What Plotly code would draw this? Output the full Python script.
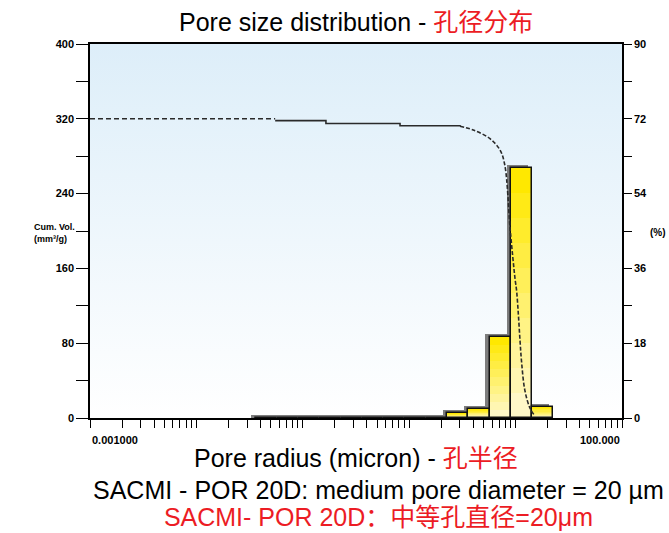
import numpy as np
import plotly.graph_objects as go

# ---------------- data ----------------
# histogram bins (pore radius, micron) and incremental volume (%)
bin_centers_um = [0.0452, 0.0716, 0.1135, 0.180, 0.285, 0.452, 0.716,
                  1.135, 1.80, 2.85, 4.52, 7.16, 11.35, 17.99]
incr_pct = [0, 0, 0, 0, 0, 0, 0, 0, 0, 1.2, 2.2, 19.5, 60.2, 2.6]

# cumulative volume curve (mm3/g)
cum_dashed_r = [0.001, 0.055]
cum_dashed_v = [320, 320]
cum_solid_r = [0.055, 0.165, 0.82, 3.0]
cum_solid_v = [318, 315, 312.5, 312]
cum_tail_r = [3.0, 4.0, 5.7, 7.1, 7.9, 8.9, 9.9, 10.2, 10.6, 11.0, 11.4, 12.2, 13.6, 15.0]
cum_tail_v = [312, 308, 299, 287, 271, 201, 148, 137, 112, 83, 59, 30, 11, 3]

# axes
x_min_um, x_max_um = 0.001, 100.0
x_end_labels = ["0.001000", "100.000"]
left_ticks = list(range(0, 401, 40))
left_labels = ["0", "", "80", "", "160", "", "240", "", "320", "", "400"]
right_ticks = list(range(0, 91, 9))
right_labels = ["0", "", "18", "", "36", "", "54", "", "72", "", "90"]

title_black = "Pore size distribution - "
title_red = "孔径分布"
xtitle_black = "Pore radius (micron) - "
xtitle_red = "孔半径"
note_black = "SACMI - POR 20D: medium pore diameter = 20 µm"
note_red = "SACMI- POR 20D：中等孔直径=20μm"
left_axis_title = "Cum. Vol.<br>(mm³/g)"
right_axis_title = "(%)"

# ---------------- styling ----------------
FONT = "Liberation Sans, Arial, Noto Sans CJK SC, sans-serif"
RED = "#ec1c24"
BAR_W = 0.2                       # bin width in decades
SHADOW_DX = 0.038                 # shadow shift left (decades)
SHADOW_DY = 0.75                  # shadow shift up (%)
TXT = 25
GRAD_STEPS = 10
BAR_TOP = (255, 232, 0)
BAR_BOTTOM = (255, 248, 200)

x0, x1 = np.log10(x_min_um), np.log10(x_max_um)
y_pct_max = 90

# x ticks: every 1..9 x 10^d
tickvals = []
for d in range(int(x0), int(x1)):
    for k in range(1, 10):
        tickvals.append(np.log10(k * 10.0 ** d))
tickvals.append(x1)

lc = np.log10(bin_centers_um)
vals = np.array(incr_pct, dtype=float)

fig = go.Figure()

# background gradient of plot area (bottom subplot, hidden y axis)
fig.add_trace(go.Scatter(
    x=[x0, x1, x1, x0, x0], y=[0, 0, 1, 1, 0],
    mode="lines", line=dict(width=0), fill="toself",
    fillgradient=dict(type="vertical", colorscale=[[0, "#ffffff"], [1, "#ddeef9"]]),
    hoverinfo="skip", showlegend=False, xaxis="x", yaxis="y"))

# shadow of bars
fig.add_trace(go.Bar(
    x=lc, y=vals + SHADOW_DY, width=BAR_W, offset=-BAR_W / 2 - SHADOW_DX,
    marker=dict(color="#7d7d7d", line=dict(width=0)),
    showlegend=False, hoverinfo="skip", xaxis="x", yaxis="y2"))

# bar fill with vertical colour gradient (each bar fades toward its base)
for k in range(GRAD_STEPS):
    t = k / (GRAD_STEPS - 1)
    c = tuple(round(a + (b - a) * t) for a, b in zip(BAR_TOP, BAR_BOTTOM))
    fig.add_trace(go.Bar(
        x=lc, y=vals * (1 - k / GRAD_STEPS), width=BAR_W, offset=-BAR_W / 2,
        marker=dict(color=f"rgb{c}", line=dict(width=0)),
        showlegend=False, hoverinfo="skip", xaxis="x", yaxis="y2"))

# bar outlines
fig.add_trace(go.Bar(
    x=lc, y=vals, width=BAR_W, offset=-BAR_W / 2,
    marker=dict(color="rgba(0,0,0,0)", line=dict(color="#111111", width=1.5)),
    showlegend=False, xaxis="x", yaxis="y2"))

# cumulative curve
line_kw = dict(color="#2a2a2a", width=1.6)
fig.add_trace(go.Scatter(x=np.log10(cum_dashed_r), y=cum_dashed_v, mode="lines",
                         line=dict(dash="5px,3px", **line_kw), showlegend=False,
                         xaxis="x", yaxis="y3"))
fig.add_trace(go.Scatter(x=np.log10(cum_solid_r), y=cum_solid_v, mode="lines",
                         line=dict(shape="hv", **line_kw), showlegend=False,
                         xaxis="x", yaxis="y3"))
fig.add_trace(go.Scatter(x=np.log10(cum_tail_r), y=cum_tail_v, mode="lines",
                         line=dict(dash="4px,2px", shape="spline", **line_kw),
                         showlegend=False, xaxis="x", yaxis="y3"))

tick_font = dict(family=FONT, size=11, color="black", weight="bold")

fig.update_layout(
    width=669, height=533,
    margin=dict(l=90, r=47, t=44, b=115),
    paper_bgcolor="white", plot_bgcolor="white",
    barmode="overlay", bargap=0,
    font=dict(family=FONT, color="black"),
    xaxis=dict(range=[x0, x1], tickvals=tickvals, ticktext=[""] * len(tickvals),
               ticks="outside", ticklen=8, tickwidth=1.3, tickcolor="black",
               showline=True, linecolor="black", linewidth=1.5, mirror=True,
               showgrid=False, zeroline=False, fixedrange=True),
    yaxis=dict(range=[0, 1], visible=False, showgrid=False, zeroline=False),
    yaxis2=dict(range=[0, y_pct_max], side="right", overlaying="y",
                tickvals=right_ticks, ticktext=right_labels, ticks="outside",
                ticklen=8, tickwidth=1.3, tickcolor="black", tickfont=tick_font,
                showline=True, linecolor="black", linewidth=1.5, showgrid=False,
                zeroline=False),
    yaxis3=dict(range=[0, 400], side="left", overlaying="y", tickvals=left_ticks,
                ticktext=left_labels, ticks="outside", ticklen=12, tickwidth=1.3,
                tickcolor="black", tickfont=tick_font, showline=True,
                linecolor="black", linewidth=1.5, showgrid=False, zeroline=False),
)

ann = []
ann.append(dict(text=f"{title_black}<span style='color:{RED}'>{title_red}</span>",
                x=0.5, y=1.059, xref="paper", yref="paper", showarrow=False,
                xanchor="center", yanchor="middle", font=dict(size=TXT, family=FONT)))
ann.append(dict(text=f"{xtitle_black}<span style='color:{RED}'>{xtitle_red}</span>",
                x=0.5, y=-0.107, xref="paper", yref="paper", showarrow=False,
                xanchor="center", yanchor="middle", font=dict(size=TXT, family=FONT)))
# two-line note (tight line spacing like the reference)
note_text = (f"<span style='font-size:{TXT}px'>{note_black}</span><br>"
             f"<span style='font-size:{TXT}px;color:{RED}'>{note_red}</span>")
ann.append(dict(text=note_text, x=0.542, y=-0.229, xref="paper", yref="paper",
                showarrow=False, xanchor="center", yanchor="middle", align="center",
                font=dict(size=21, family=FONT)))
ann.append(dict(text=x_end_labels[0], x=x0, y=-0.059, xref="x", yref="paper",
                showarrow=False, xanchor="left", yanchor="middle", font=tick_font))
ann.append(dict(text=x_end_labels[1], x=x1, y=-0.059, xref="x", yref="paper",
                showarrow=False, xanchor="right", yanchor="middle", font=tick_font))
ann.append(dict(text=left_axis_title, x=-0.025, y=0.495, xref="paper", yref="paper",
                showarrow=False, xanchor="right", yanchor="middle", align="left",
                font=dict(family=FONT, size=9, weight="bold")))
ann.append(dict(text=right_axis_title, x=1.048, y=0.495, xref="paper", yref="paper",
                showarrow=False, xanchor="left", yanchor="middle",
                font=dict(family=FONT, size=10, weight="bold")))
fig.update_layout(annotations=ann)

fig.write_html("out.html")
